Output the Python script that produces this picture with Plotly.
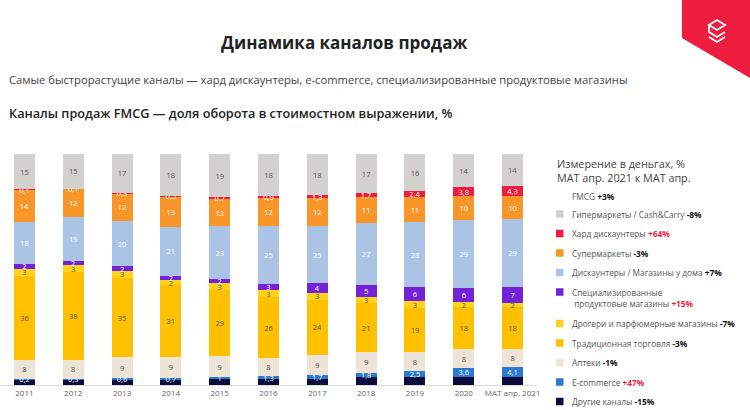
import plotly.graph_objects as go

# ---------------- data ----------------
categories = ["2011", "2012", "2013", "2014", "2015", "2016", "2017", "2018", "2019", "2020", "MAT апр. 2021"]

hyper = [15, 15, 17, 18, 19, 18, 18, 17, 16, 14, 14]
hard = [0.1, 0.1, 0.3, 0.5, 0.7, 0.9, 1.3, 1.7, 2.4, 3.8, 4.3]
supermarkets = [14, 12, 12, 13, 12, 12, 12, 11, 11, 10, 10]
discounters = [18, 19, 20, 21, 23, 25, 25, 27, 28, 29, 29]
specialized = [2, 2, 2, 2, 2, 3, 4, 5, 6, 6, 7]
drogerie = [3, 3, 3, 2, 3, 3, 3, 3, 3, 2, 2]
traditional = [36, 38, 35, 31, 29, 26, 24, 21, 19, 18, 18]
pharmacy = [8, 8, 9, 9, 9, 8, 9, 9, 8, 8, 8]
ecommerce = [0.2, 0.3, 0.6, 0.7, 1, 1.3, 1.7, 1.8, 2.5, 3.6, 4.1]
other = [2.5, 2.5, 2.5, 2.5, 2.5, 2.5, 2.5, 3.5, 3.5, 3.5, 3.5]

legend_names = [
    "Гипермаркеты / Cash&Carry",
    "Хард дискаунтеры",
    "Супермаркеты",
    "Дискаунтеры / Магазины у дома",
    "Специализированные<br> продуктовые магазины",
    "Дрогери и парфюмерные магазины",
    "Традиционная торговля",
    "Аптеки",
    "E-commerce",
    "Другие каналы",
]
legend_growth = ["-8%", "+64%", "-3%", "+7%", "+15%", "-7%", "-3%", "-1%", "+47%", "-15%"]
fmcg_growth = "+3%"

colors = ["#D3D0D0", "#EE1C3E", "#F8962A", "#ABC4E6", "#7422D8",
          "#FFD21C", "#FFC000", "#EDE3D7", "#2A7BD0", "#0A0C3C"]
label_colors = ["#555555", "white", "white", "white", "white",
                "#555555", "#555555", "#555555", "white", "white"]

series = [hyper, hard, supermarkets, discounters, specialized,
          drogerie, traditional, pharmacy, ecommerce, other]
show_labels = [True] * 9 + [False]


def fmt(v):
    return f"{v:g}".replace(".", ",")


fig = go.Figure()
# stack from bottom (other) to top (hyper)
for i in reversed(range(len(series))):
    vals = series[i]
    fig.add_trace(go.Bar(
        x=categories, y=vals,
        name=legend_names[i].replace("<br>", ""),
        marker=dict(color=colors[i], line=dict(width=0)),
        text=[fmt(v) for v in vals] if show_labels[i] else None,
        texttemplate="%{text}" if show_labels[i] else None,
        textposition="inside" if show_labels[i] else "none",
        insidetextanchor="middle",
        textangle=0,
        constraintext="none",
        textfont=dict(size=7.5, color=label_colors[i], family="Open Sans"),
        showlegend=False,
        hoverinfo="skip",
    ))

# ---------------- layout geometry helpers ----------------
W, H = 750, 410
ML, MR, MT, MB = 0, 213, 154, 25
PW = W - ML - MR
PH = H - MT - MB


def px(x):
    return (x - ML) / PW


def py(y):
    return (H - MB - y) / PH


annotations = []
shapes = []

# titles
annotations.append(dict(x=px(344), y=py(42), xref="paper", yref="paper",
                        text="Динамика каналов продаж", showarrow=False,
                        xanchor="center", yanchor="middle",
                        font=dict(size=17, color="#222222", family="Open Sans", weight=700)))
annotations.append(dict(x=px(7), y=py(80), xref="paper", yref="paper",
                        text="Самые быстрорастущие каналы — хард дискаунтеры, e-commerce, специализированные продуктовые магазины",
                        showarrow=False, xanchor="left", yanchor="middle",
                        font=dict(size=11.2, color="#444444", family="Open Sans")))
annotations.append(dict(x=px(7), y=py(113), xref="paper", yref="paper",
                        text="Каналы продаж FMCG — доля оборота в стоимостном выражении, %",
                        showarrow=False, xanchor="left", yanchor="middle",
                        font=dict(size=12.7, color="#222222", family="Open Sans", weight=600)))

# legend title
annotations.append(dict(x=px(555), y=py(154), xref="paper", yref="paper",
                        text="Измерение в деньгах, %<br>МАТ апр. 2021 к МАТ апр.",
                        showarrow=False, xanchor="left", yanchor="top", align="left",
                        font=dict(size=10.8, color="#444444", family="Open Sans")))

# FMCG line
annotations.append(dict(x=px(570), y=py(196), xref="paper", yref="paper",
                        text=f"FMCG <b style='color:#111'>{fmcg_growth}</b>",
                        showarrow=False, xanchor="left", yanchor="middle",
                        font=dict(size=8.3, color="#555555", family="Open Sans")))

# manual legend
for i, name in enumerate(legend_names):
    yc = 214 + 19.5 * i + (12 if i > 4 else 0)
    gcol = "#EE1C3E" if legend_growth[i] in ("+64%", "+15%", "+47%") else "#111111"
    shapes.append(dict(type="rect", xref="paper", yref="paper",
                       x0=px(556), x1=px(563.5), y0=py(yc - 3.75), y1=py(yc + 3.75),
                       fillcolor=colors[i], line=dict(width=0)))
    ty = yc + 6 if "<br>" in name else yc
    annotations.append(dict(x=px(570), y=py(ty), xref="paper", yref="paper",
                            text=f"{name} <b><span style='color:{gcol}'>{legend_growth[i]}</span></b>",
                            showarrow=False, xanchor="left", yanchor="middle", align="left",
                            font=dict(size=8.3, color="#555555", family="Open Sans")))

# logo (decoration)
def path(points, close=True):
    s = "M" + " L".join(f"{px(x)},{py(y)}" for x, y in points)
    return s + (" Z" if close else "")


shapes.append(dict(type="path", xref="paper", yref="paper",
                   path=path([(682, 0), (750, 0), (750, 78), (682, 38)]),
                   fillcolor="#EE1C3E", line=dict(width=0)))
shapes.append(dict(type="path", xref="paper", yref="paper",
                   path=path([(709, 25), (717, 20), (725, 25), (717, 30)]),
                   fillcolor="rgba(0,0,0,0)", line=dict(color="white", width=1.8)))
shapes.append(dict(type="path", xref="paper", yref="paper",
                   path=path([(709, 25), (709, 32), (717, 37), (725, 32)], close=False),
                   fillcolor="rgba(0,0,0,0)", line=dict(color="white", width=1.8)))
shapes.append(dict(type="path", xref="paper", yref="paper",
                   path=path([(709, 37), (717, 42), (725, 37)], close=False),
                   fillcolor="rgba(0,0,0,0)", line=dict(color="white", width=1.8)))

fig.update_layout(
    width=W, height=H,
    barmode="stack", barnorm="percent", bargap=0.57,
    margin=dict(l=ML, r=MR, t=MT, b=MB, pad=0),
    paper_bgcolor="white", plot_bgcolor="white",
    showlegend=False,
    font=dict(family="Open Sans", color="#555555"),
    xaxis=dict(showline=True, linecolor="#DCDCDC", linewidth=1, ticks="",
               tickfont=dict(size=8, color="#666666"), showgrid=False, fixedrange=True),
    yaxis=dict(visible=False, range=[0, 100], showgrid=False, fixedrange=True),
    annotations=annotations,
    shapes=shapes,
)

fig.write_html("out.html", config={"displayModeBar": False},
               post_script="document.body.style.margin='0';document.body.style.overflow='hidden';")
